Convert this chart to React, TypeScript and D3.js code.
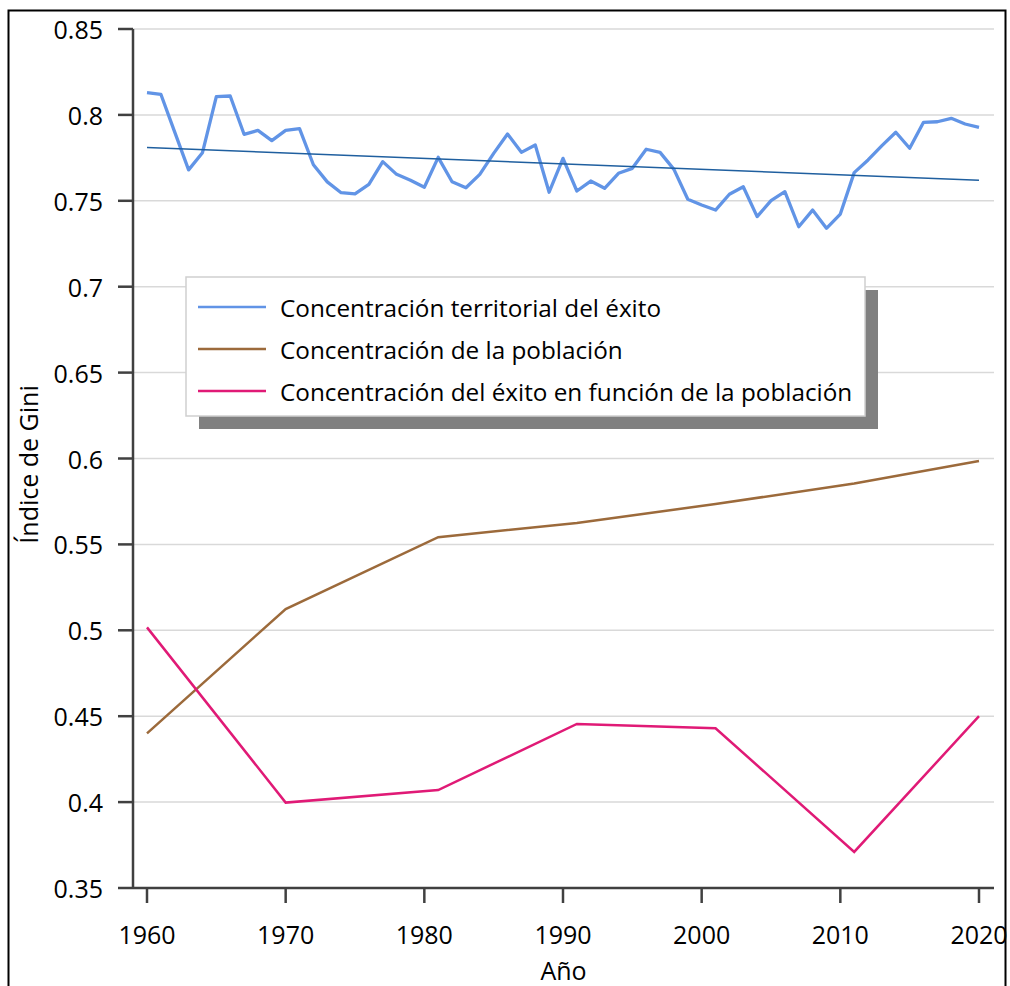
import { scaleLinear, line as d3_line } from "d3";

const startYear = 1960;
// Concentración territorial del éxito, one value per year 1960..2020
const territorial = [
  0.813, 0.812, 0.79, 0.768, 0.778, 0.8106, 0.811, 0.7887, 0.791, 0.785,
  0.791, 0.792, 0.771, 0.761, 0.7547, 0.754, 0.7596, 0.7728, 0.7654, 0.762,
  0.7579, 0.7753, 0.7611, 0.7576, 0.7654, 0.7776, 0.7889, 0.7782, 0.7825, 0.755,
  0.7747, 0.7557, 0.7615, 0.7573, 0.766, 0.7689, 0.78, 0.7782, 0.7683, 0.7509,
  0.7476, 0.7446, 0.7538, 0.7582, 0.7408, 0.7501, 0.7553, 0.7349, 0.7446, 0.734,
  0.7423, 0.7664, 0.7738, 0.7821, 0.7899, 0.7806, 0.7957, 0.796, 0.798, 0.7947,
  0.7928,
];
const trendYears = [1960, 2020];
const trendValues = [0.781, 0.762];

const censusYears = [1960, 1970, 1981, 1991, 2001, 2011, 2020];
const poblacion = [0.44, 0.5124, 0.5542, 0.5625, 0.5735, 0.5854, 0.5985];
const exitoPoblacion = [0.5017, 0.3997, 0.407, 0.4455, 0.443, 0.371, 0.45];

const yTicks = [0.35, 0.4, 0.45, 0.5, 0.55, 0.6, 0.65, 0.7, 0.75, 0.8, 0.85];
const xTicks = [1960, 1970, 1980, 1990, 2000, 2010, 2020];

const legendItems = [
  { label: "Concentración territorial del éxito", color: "#6194e6" },
  { label: "Concentración de la población", color: "#9c6a3b" },
  { label: "Concentración del éxito en función de la población", color: "#e01a76" },
];

const FONT = "'Open Sans', sans-serif";

export default function App() {
  const x = scaleLinear().domain([1960, 2020]).range([147, 979]);
  const y = scaleLinear().domain([0.35, 0.85]).range([888, 29]);
  const plotLeft = 133;
  const plotRight = 994;

  const line = d3_line<[number, number]>()
    .x((d) => x(d[0]))
    .y((d) => y(d[1]));

  const dTerr = line(territorial.map((v, i) => [startYear + i, v]));
  const dTrend = line(trendYears.map((yr, i) => [yr, trendValues[i]]));
  const dPob = line(censusYears.map((yr, i) => [yr, poblacion[i]]));
  const dExito = line(censusYears.map((yr, i) => [yr, exitoPoblacion[i]]));

  const legend = { x: 186, y: 277, w: 679, h: 139 };

  return (
    <svg
      width={1010}
      height={986}
      style={{ position: "absolute", left: 0, top: 0, background: "#fff" }}
      fontFamily={FONT}
    >
      {/* outer frame */}
      <rect x={8.5} y={10.5} width={997} height={990} fill="#fff" stroke="#000" strokeWidth={2} />

      {/* grid lines */}
      {yTicks.slice(1).map((t) => (
        <line key={t} x1={plotLeft} x2={plotRight} y1={y(t)} y2={y(t)} stroke="#d9d9d9" strokeWidth={1.5} />
      ))}

      {/* y axis */}
      <line x1={plotLeft} x2={plotLeft} y1={y(0.85)} y2={y(0.35)} stroke="#404040" strokeWidth={2.5} />
      {yTicks.map((t) => (
        <g key={t}>
          <line x1={118} x2={plotLeft} y1={y(t)} y2={y(t)} stroke="#404040" strokeWidth={2.5} />
          <text x={103} y={y(t)} textAnchor="end" dominantBaseline="central" fontSize={25} fill="#000">
            {String(t)}
          </text>
        </g>
      ))}

      {/* x axis */}
      <line x1={plotLeft} x2={plotRight} y1={y(0.35)} y2={y(0.35)} stroke="#404040" strokeWidth={2.5} />
      {xTicks.map((t) => (
        <g key={t}>
          <line x1={x(t)} x2={x(t)} y1={y(0.35)} y2={903} stroke="#404040" strokeWidth={2.5} />
          <text x={x(t)} y={944} textAnchor="middle" fontSize={25} fill="#000">
            {t}
          </text>
        </g>
      ))}

      {/* axis titles */}
      <text
        transform={`translate(38,${(y(0.85) + y(0.35)) / 2 + 6}) rotate(-90)`}
        textAnchor="middle"
        fontSize={25}
        fill="#000"
      >
        Índice de Gini
      </text>
      <text x={(plotLeft + plotRight) / 2} y={980} textAnchor="middle" fontSize={25} fill="#000">
        Año
      </text>

      {/* series */}
      {dPob && <path d={dPob} fill="none" stroke="#9c6a3b" strokeWidth={2.5} />}
      {dExito && <path d={dExito} fill="none" stroke="#e01a76" strokeWidth={2.5} />}
      {dTerr && <path d={dTerr} fill="none" stroke="#6194e6" strokeWidth={3.3} strokeLinejoin="round" />}
      {dTrend && <path d={dTrend} fill="none" stroke="#1f5f9f" strokeWidth={1.5} />}

      {/* legend */}
      <rect x={legend.x + 13} y={legend.y + 13} width={legend.w} height={legend.h} fill="#808080" />
      <rect x={legend.x} y={legend.y} width={legend.w} height={legend.h} fill="#fff" stroke="#cfcfcf" strokeWidth={1.5} />
      {legendItems.map((it, i) => {
        const cy = legend.y + 30 + i * 42;
        return (
          <g key={it.label}>
            <line x1={198} x2={266} y1={cy} y2={cy} stroke={it.color} strokeWidth={2.5} />
            <text x={280} y={cy} dominantBaseline="central" fontSize={24.3} fill="#000">
              {it.label}
            </text>
          </g>
        );
      })}
    </svg>
  );
}
